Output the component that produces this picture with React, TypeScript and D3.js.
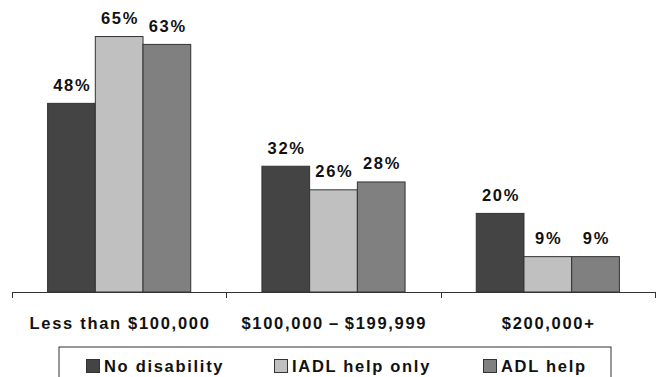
import React from "react";
import * as d3 from "d3";

const categories = ["Less than $100,000", "$100,000\u2009–\u2009$199,999", "$200,000+"];
const seriesNames = ["No disability", "IADL help only", "ADL help"];
const noDisability = [48, 32, 20];
const iadlHelpOnly = [65, 26, 9];
const adlHelp = [63, 28, 9];

const seriesValues = [noDisability, iadlHelpOnly, adlHelp];
const seriesFills = ["#444444", "#c0c0c0", "#808080"];

const W = 656;
const H = 377;
const baseY = 292;
const left = 12;
const right = 655;
const font = "'Liberation Sans', Arial, Helvetica, sans-serif";
const fontSize = 16.5;
const spacing = 1.7;

export default function App() {
  const x0 = d3.scaleBand<string>().domain(categories).range([left, right]).padding(0);
  const x1 = d3
    .scaleBand<string>()
    .domain(seriesNames)
    .range([0, x0.bandwidth()])
    .paddingInner(0)
    .paddingOuter(0.746);
  const y = d3.scaleLinear().domain([0, 70]).range([baseY, baseY - 275.1]);

  const tickXs = [...categories.map((c) => x0(c) as number), right];

  // legend layout: swatch left edges for each entry
  const legendX = [86, 274, 483];

  const textProps = {
    fontFamily: font,
    fontWeight: "bold",
    fontSize,
    letterSpacing: spacing,
    fill: "#111",
  };

  return (
    <div style={{ position: "fixed", left: 0, top: 0 }}>
      <svg width={W} height={H} style={{ display: "block", background: "#ffffff" }}>
        {categories.map((cat, ci) => (
          <g key={cat} transform={`translate(${x0(cat)},0)`}>
            {seriesNames.map((s, si) => {
              const v = seriesValues[si][ci];
              const bx = x1(s) as number;
              const bw = x1.bandwidth();
              return (
                <g key={s}>
                  <rect
                    x={bx}
                    y={y(v)}
                    width={bw}
                    height={baseY - y(v)}
                    fill={seriesFills[si]}
                    stroke="#333333"
                    strokeWidth={1}
                  />
                  <text x={bx + bw / 2 + spacing / 2} y={y(v) - 12.5} textAnchor="middle" {...textProps}>
                    {v}%
                  </text>
                </g>
              );
            })}
            <text x={x0.bandwidth() / 2 + spacing / 2} y={329} textAnchor="middle" {...textProps}>
              {cat}
            </text>
          </g>
        ))}

        <line x1={left} x2={right} y1={baseY + 0.5} y2={baseY + 0.5} stroke="#333" strokeWidth={1} />
        {tickXs.map((tx, i) => (
          <line
            key={i}
            x1={Math.round(tx) + 0.5}
            x2={Math.round(tx) + 0.5}
            y1={baseY}
            y2={baseY + 6}
            stroke="#333"
            strokeWidth={1}
          />
        ))}

        <rect x={59} y={347} width={552} height={40} fill="none" stroke="#333" strokeWidth={1} />
        {seriesNames.map((s, si) => (
          <g key={s}>
            <rect
              x={legendX[si] + 0.5}
              y={359.5}
              width={13}
              height={13}
              fill={seriesFills[si]}
              stroke="#333"
              strokeWidth={1}
            />
            <text x={legendX[si] + 18} y={371.5} {...textProps}>
              {s}
            </text>
          </g>
        ))}
      </svg>
    </div>
  );
}
